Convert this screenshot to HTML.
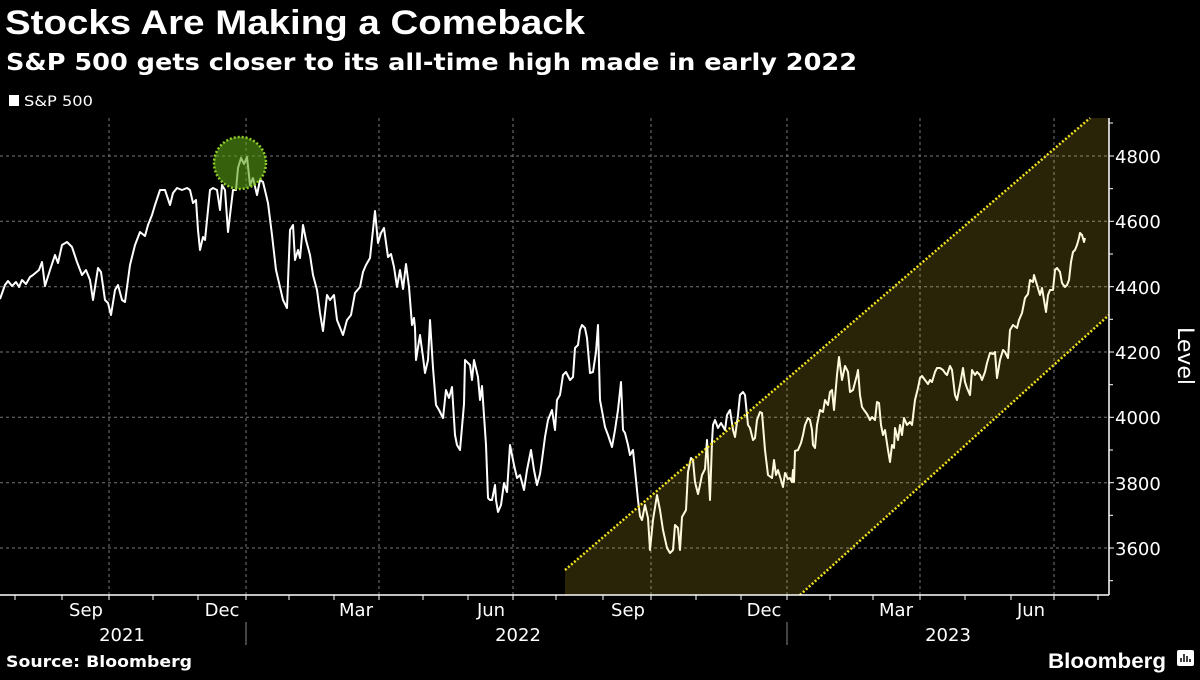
<!DOCTYPE html>
<html><head><meta charset="utf-8">
<style>
body{margin:0;background:#000;width:1200px;height:675px;overflow:hidden;font-family:"Liberation Sans",sans-serif;}
</style></head><body>
<svg width="1200" height="675" xmlns="http://www.w3.org/2000/svg" font-family="'DejaVu Sans','Liberation Sans',sans-serif">
<rect width="1200" height="675" fill="#000"/>
<text x="5" y="34" fill="#fff" font-size="34" font-weight="bold" font-family="'Liberation Sans',sans-serif" textLength="580" lengthAdjust="spacingAndGlyphs">Stocks Are Making a Comeback</text>
<text x="6" y="70" fill="#fff" font-size="23" font-weight="bold" textLength="851" lengthAdjust="spacingAndGlyphs">S&amp;P 500 gets closer to its all-time high made in early 2022</text>
<rect x="9" y="95" width="10" height="11" fill="#fff"/>
<text x="24" y="106" fill="#fff" font-size="14" textLength="69" lengthAdjust="spacingAndGlyphs">S&amp;P 500</text>
<g stroke="#777" stroke-width="1" stroke-dasharray="3,3">
<line x1="0" x2="1109" y1="156" y2="156"/><line x1="0" x2="1109" y1="221.3" y2="221.3"/><line x1="0" x2="1109" y1="286.7" y2="286.7"/><line x1="0" x2="1109" y1="352" y2="352"/><line x1="0" x2="1109" y1="417.3" y2="417.3"/><line x1="0" x2="1109" y1="482.7" y2="482.7"/><line x1="0" x2="1109" y1="548" y2="548"/>
<line x1="109" x2="109" y1="118" y2="595"/><line x1="246" x2="246" y1="118" y2="595"/><line x1="379" x2="379" y1="118" y2="595"/><line x1="513" x2="513" y1="118" y2="595"/><line x1="651" x2="651" y1="118" y2="595"/><line x1="787" x2="787" y1="118" y2="595"/><line x1="920" x2="920" y1="118" y2="595"/><line x1="1054" x2="1054" y1="118" y2="595"/>
</g>
<polyline fill="none" stroke="#fff" stroke-width="2" stroke-linejoin="round" points="0,299 5,285 8,281 12,286 16,282 19,287 22,280 26,284 30,277 33,275 39,270 42,262 45,286 50,270 55,255 58,263 62,245 67,242 72,247 77,262 82,275 86,270 90,280 93,300 98,268 101,272 105,300 108,303 111,315 115,290 118,285 122,300 125,302 130,265 135,245 140,232 145,236 148,225 152,215 155,205 160,190 165,190 170,205 173,193 177,188 182,190 187,188 190,190 193,203 196,200 198,230 200,250 203,237 205,240 210,190 213,188 217,190 220,210 222,185 225,190 228,232 233,190 236,190 238,168 241,158 244,164 247,157 250,185 253,178 257,195 260,180 263,182 268,203 272,235 276,270 280,287 283,300 287,308 290,230 293,225 295,260 298,250 300,258 303,225 306,240 310,255 313,275 317,290 320,313 323,331 327,295 330,300 334,295 337,320 341,330 343,335 347,320 351,315 355,293 360,287 363,272 366,265 370,258 375,211 378,243 381,233 384,228 388,257 391,254 394,267 397,287 400,270 403,289 406,264 409,287 412,325 414,318 415,328 416,360 420,335 423,357 425,373 428,360 430,320 433,368 436,405 439,410 443,418 446,390 449,398 452,387 455,435 457,445 460,450 464,404 465,360 470,365 472,380 474,360 478,377 480,400 482,386 486,445 488,498 490,500 492,500 495,485 496,500 498,512 501,505 504,483 507,492 510,445 514,465 517,478 520,475 524,490 527,470 531,450 534,470 537,485 540,474 542,460 545,437 548,420 552,410 555,430 557,400 560,395 563,375 566,372 570,380 573,377 575,348 578,345 580,330 582,325 585,328 587,338 590,373 593,372 596,352 598,325 600,400 605,427 608,435 612,447 615,430 618,410 621,382 623,430 625,433 628,445 630,455 633,450 636,480 638,500 640,516 642,520 645,505 648,518 650,550 653,520 657,495 660,510 663,530 667,548 670,553 673,550 675,525 678,528 680,550 682,517 686,510 688,472 691,458 693,460 695,482 698,494 700,485 702,475 705,469 707,440 710,500 712,442 713,425 715,420 718,428 721,423 725,430 727,415 730,410 733,430 735,437 738,415 740,395 743,392 745,395 748,425 750,428 753,440 755,438 757,420 760,412 762,413 765,450 768,475 772,478 774,460 776,475 778,470 781,480 783,487 785,473 788,479 790,478 792,482 793,470 794,482 795,451 798,450 801,443 803,435 805,425 808,418 810,420 812,430 813,445 815,448 817,425 820,410 823,412 825,400 828,405 830,392 832,390 834,410 837,375 839,357 842,380 845,366 848,372 850,392 853,390 857,375 858,370 860,395 862,407 864,410 867,414 870,420 872,417 875,420 877,402 879,403 881,425 883,435 885,430 888,450 890,462 892,445 894,448 895,428 898,440 900,425 902,435 904,418 907,425 910,422 912,425 915,400 918,388 920,378 922,376 925,380 928,384 930,380 932,382 935,372 937,368 940,368 943,370 945,373 947,375 950,366 952,370 955,395 957,400 960,385 963,368 965,382 967,388 970,395 972,370 975,375 977,372 980,375 982,380 985,372 987,363 990,353 993,354 995,352 997,378 1000,360 1003,350 1005,352 1008,358 1010,330 1013,325 1017,328 1019,320 1022,313 1025,298 1028,294 1030,280 1033,282 1034,275 1037,285 1040,295 1042,288 1044,300 1046,312 1048,295 1050,290 1053,290 1055,270 1057,268 1060,272 1062,283 1065,287 1067,285 1069,280 1071,262 1073,252 1075,250 1077,245 1079,238 1080,233 1082,235 1084,242 1085,238"/>
<polygon points="565,570 1090,118 1109,118 1109,315 800,595 565,595" fill="rgba(255,225,50,0.16)"/>
<line x1="565" y1="570" x2="1090" y2="118" stroke="#f0e020" stroke-width="2.5" stroke-dasharray="2,2"/>
<line x1="800" y1="595" x2="1109" y2="315" stroke="#f0e020" stroke-width="2.5" stroke-dasharray="2,2"/>
<circle cx="240" cy="163" r="26" fill="rgba(90,160,20,0.6)" stroke="#8fce2a" stroke-width="2.5" stroke-dasharray="2,2"/>
<line x1="0" y1="595" x2="1109" y2="595" stroke="#fff" stroke-width="1.5"/>
<line x1="1109" y1="118" x2="1109" y2="595" stroke="#fff" stroke-width="1.5"/>
<g stroke="#fff" stroke-width="1">
<line x1="15" x2="15" y1="595" y2="600"/><line x1="62" x2="62" y1="595" y2="600"/><line x1="109" x2="109" y1="595" y2="600"/><line x1="153" x2="153" y1="595" y2="600"/><line x1="198" x2="198" y1="595" y2="600"/><line x1="246" x2="246" y1="595" y2="600"/><line x1="289" x2="289" y1="595" y2="600"/><line x1="334" x2="334" y1="595" y2="600"/><line x1="379" x2="379" y1="595" y2="600"/><line x1="423" x2="423" y1="595" y2="600"/><line x1="468" x2="468" y1="595" y2="600"/><line x1="513" x2="513" y1="595" y2="600"/><line x1="556" x2="556" y1="595" y2="600"/><line x1="603" x2="603" y1="595" y2="600"/><line x1="651" x2="651" y1="595" y2="600"/><line x1="696" x2="696" y1="595" y2="600"/><line x1="741" x2="741" y1="595" y2="600"/><line x1="787" x2="787" y1="595" y2="600"/><line x1="830" x2="830" y1="595" y2="600"/><line x1="873" x2="873" y1="595" y2="600"/><line x1="920" x2="920" y1="595" y2="600"/><line x1="965" x2="965" y1="595" y2="600"/><line x1="1011" x2="1011" y1="595" y2="600"/><line x1="1054" x2="1054" y1="595" y2="600"/><line x1="1098" x2="1098" y1="595" y2="600"/>
<line x1="246" x2="246" y1="622" y2="645" stroke="#888"/><line x1="787" x2="787" y1="622" y2="645" stroke="#888"/>
<line x1="1109" x2="1114" y1="156" y2="156"/><line x1="1109" x2="1114" y1="221.3" y2="221.3"/><line x1="1109" x2="1114" y1="286.7" y2="286.7"/><line x1="1109" x2="1114" y1="352" y2="352"/><line x1="1109" x2="1114" y1="417.3" y2="417.3"/><line x1="1109" x2="1114" y1="482.7" y2="482.7"/><line x1="1109" x2="1114" y1="548" y2="548"/>
<line x1="1109" x2="1113" y1="123" y2="123"/><line x1="1109" x2="1113" y1="188.7" y2="188.7"/><line x1="1109" x2="1113" y1="254" y2="254"/><line x1="1109" x2="1113" y1="319.3" y2="319.3"/><line x1="1109" x2="1113" y1="384.7" y2="384.7"/><line x1="1109" x2="1113" y1="450" y2="450"/><line x1="1109" x2="1113" y1="515.3" y2="515.3"/><line x1="1109" x2="1113" y1="580.7" y2="580.7"/>
</g>
<g fill="#fff" font-size="18">
<text x="1115" y="163">4800</text><text x="1115" y="228">4600</text><text x="1115" y="294">4400</text><text x="1115" y="359">4200</text><text x="1115" y="424">4000</text><text x="1115" y="490">3800</text><text x="1115" y="555">3600</text>
</g>
<text transform="translate(1178,356) rotate(90)" fill="#fff" font-size="22" text-anchor="middle">Level</text>
<g fill="#fff" font-size="18" text-anchor="middle">
<text x="86" y="616">Sep</text><text x="222" y="616">Dec</text><text x="356" y="616">Mar</text><text x="491" y="616">Jun</text><text x="628" y="616">Sep</text><text x="764" y="616">Dec</text><text x="896" y="616">Mar</text><text x="1031" y="616">Jun</text>
<text x="122" y="641">2021</text><text x="518" y="641">2022</text><text x="948" y="641">2023</text>
</g>
<text x="6" y="667" fill="#fff" font-size="16" font-weight="bold" textLength="186" lengthAdjust="spacingAndGlyphs">Source: Bloomberg</text>
<text x="1048" y="668" fill="#fff" font-size="21" font-weight="bold" font-family="'Liberation Sans',sans-serif" textLength="118" lengthAdjust="spacingAndGlyphs">Bloomberg</text>
<rect x="1177" y="650" width="17" height="16" rx="2" fill="#fff"/>
<g stroke="#000" stroke-width="1.5"><line x1="1181" y1="662" x2="1181" y2="658"/><line x1="1184" y1="662" x2="1184" y2="654"/><line x1="1187" y1="662" x2="1187" y2="656"/><line x1="1190" y1="662" x2="1190" y2="659"/></g>
</svg>
</body></html>
